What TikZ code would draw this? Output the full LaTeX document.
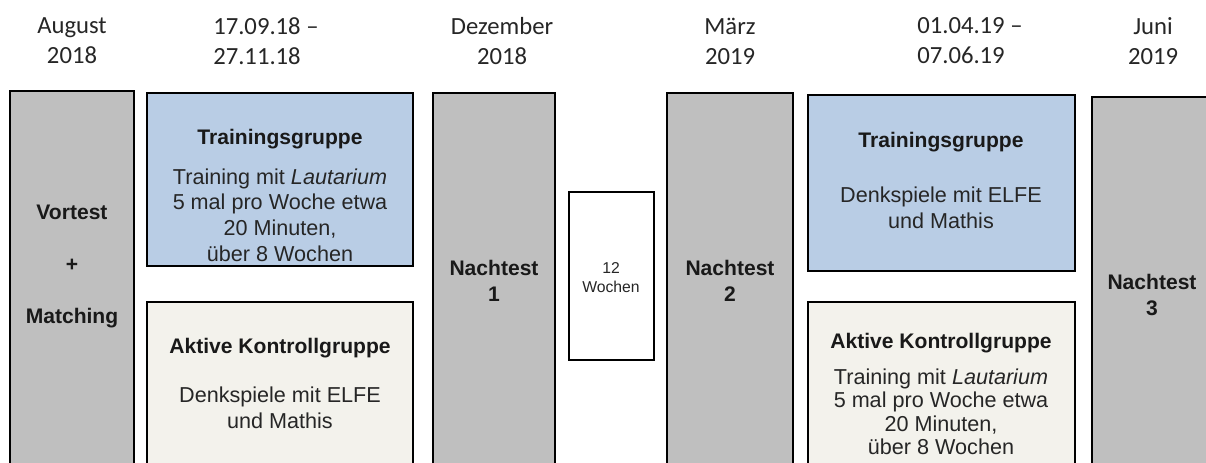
\documentclass[tikz,border=0pt]{standalone}
\usepackage{fontspec}
\setmainfont{Liberation Sans}
\newfontfamily\headfont{Carlito}
\usetikzlibrary{fit}
\definecolor{testgray}{HTML}{BFBFBF}
\definecolor{trainblue}{HTML}{B9CDE5}
\definecolor{ctrlbeige}{HTML}{F3F2EC}
\tikzset{
  phase/.style={draw=black, line width=1.9pt, inner sep=0pt},
  testbox/.style={phase, fill=testgray},
  trainbox/.style={phase, fill=trainblue},
  ctrlbox/.style={phase, fill=ctrlbeige},
  gapbox/.style={phase, fill=white, line width=1.6pt},
  head/.style={font=\headfont\fontsize{18.5}{22.5}\selectfont, text=black!85, inner sep=0pt},
  headc/.style={head, align=center},
  headl/.style={head, align=left},
  title/.style={font=\bfseries\fontsize{15.8}{19}\selectfont, text=black!90, inner sep=0pt, align=center},
  body/.style={font=\fontsize{16.2}{19.3}\selectfont, text=black!85, inner sep=0pt, align=center},
  small/.style={font=\fontsize{11.8}{14.2}\selectfont, text=black!85, inner sep=0pt, align=center}
}
\begin{document}
\begin{tikzpicture}[x=0.75pt, y=-0.75pt]
\useasboundingbox (0,0) rectangle (1206,463);
\clip (0,0) rectangle (1206,463);

% dates above the columns
\node[headc] (dAug) at (72,41) {August\\2018};
\node[headl, anchor=west] (dT1) at (213,41) {17.09.18 –\\27.11.18};
\node[headc] (dDez) at (502,41) {Dezember\\2018};
\node[headc] (dMar) at (730,41) {März\\2019};
\node[headl, anchor=west] (dT2) at (917,41) {01.04.19 –\\07.06.19};
\node[headc] (dJun) at (1153,41) {Juni\\2019};

% pretest column
\node[testbox, fit={(10,91)(134,480)}] (vt) {};
\node[title, font=\bfseries\fontsize{15.8}{39}\selectfont] (vtText) at (72,266) {Vortest\\+\\Matching};

% first training period
\node[trainbox, fit={(147,93)(413,266)}] (tg1) {};
\node[title] (tg1Title) at (280,139) {Trainingsgruppe};
\node[body] (tg1Text) at (280,215) {Training mit \textit{Lautarium}\\5 mal pro Woche etwa\\20 Minuten,\\über 8 Wochen};

\node[ctrlbox, fit={(147,302)(413,480)}] (kg1) {};
\node[title] (kg1Title) at (280,348) {Aktive Kontrollgruppe};
\node[body] (kg1Text) at (280,408) {Denkspiele mit ELFE\\und Mathis};

% posttest 1, pause, posttest 2
\node[testbox, fit={(433,93)(555,480)}] (n1) {};
\node[title] (n1Text) at (494,281) {Nachtest\\1};

\node[gapbox, fit={(569,192)(654,360)}] (w12) {};
\node[small] (w12Text) at (611,278) {12\\Wochen};

\node[testbox, fit={(667,93)(793,480)}] (n2) {};
\node[title] (n2Text) at (730,281) {Nachtest\\2};

% second training period (groups swapped)
\node[trainbox, fit={(808,95)(1075,271)}] (tg2) {};
\node[title] (tg2Title) at (941,142) {Trainingsgruppe};
\node[body] (tg2Text) at (941,208) {Denkspiele mit ELFE\\und Mathis};

\node[ctrlbox, fit={(808,302)(1075,480)}] (kg2) {};
\node[title] (kg2Title) at (941,343) {Aktive Kontrollgruppe};
\node[body, font=\fontsize{16.2}{17.6}\selectfont] (kg2Text) at (941,412) {Training mit \textit{Lautarium}\\5 mal pro Woche etwa\\20 Minuten,\\über 8 Wochen};

% posttest 3
\node[testbox, fit={(1092,97)(1220,480)}] (n3) {};
\node[title] (n3Text) at (1152,295) {Nachtest\\3};
\end{tikzpicture}
\end{document}
